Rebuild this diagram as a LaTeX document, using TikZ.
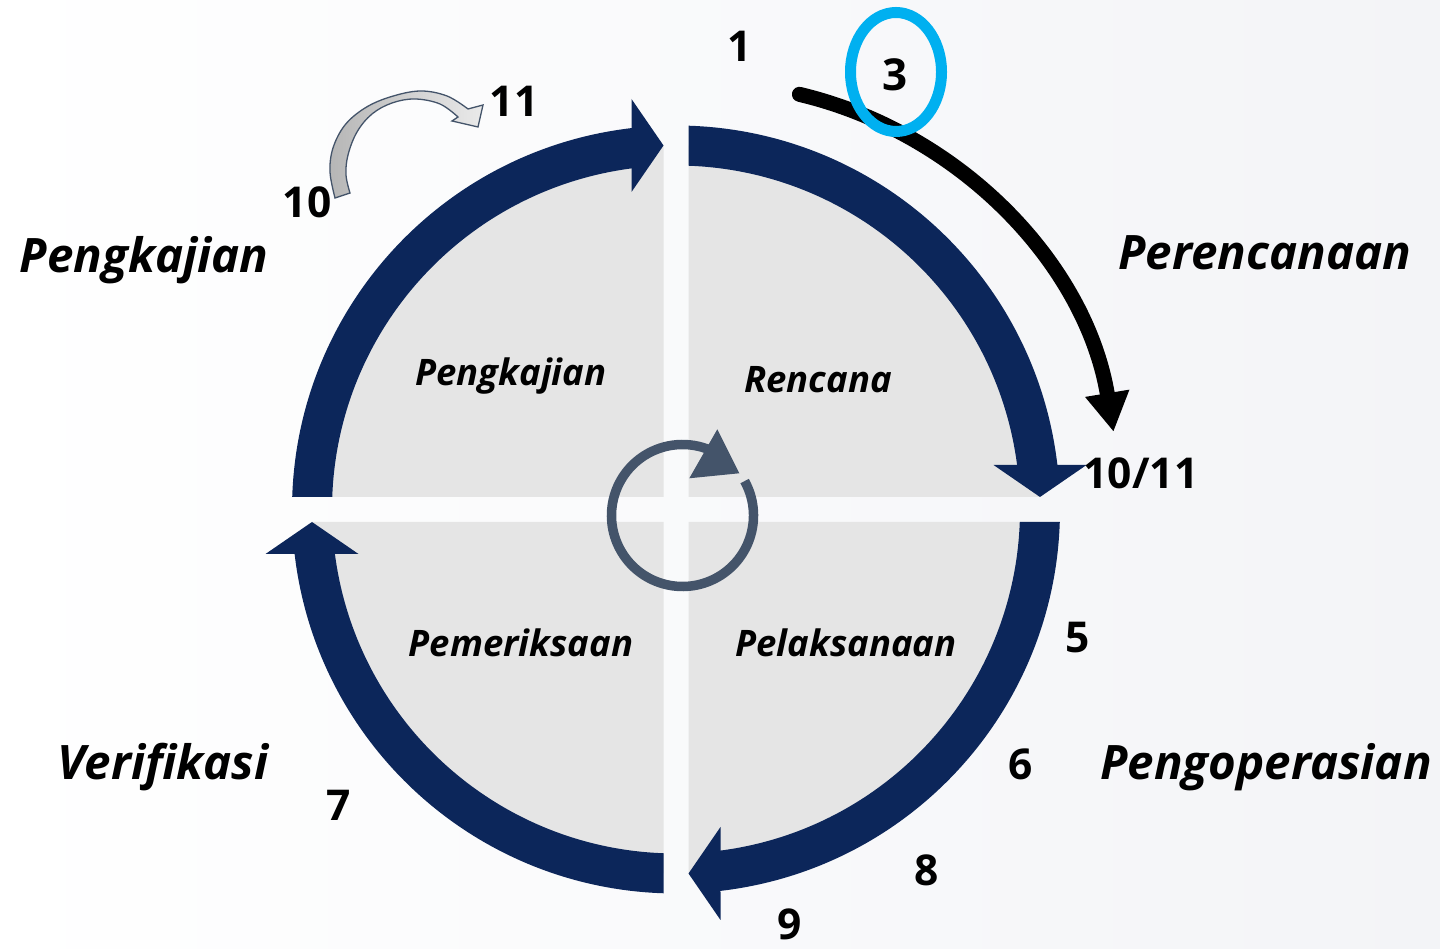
\documentclass[tikz,border=0pt]{standalone}
\usepackage{fontspec}
\setmainfont{Open Sans}
\usetikzlibrary{arrows.meta,calc}
\definecolor{ringblue}{RGB}{12,38,90}
\definecolor{quadgray}{RGB}{229,229,229}
\definecolor{iconslate}{RGB}{68,84,106}
\definecolor{markcyan}{RGB}{0,176,240}
\definecolor{arrowlight}{RGB}{234,234,234}
\definecolor{arrowdark}{RGB}{182,182,182}
\definecolor{paperright}{RGB}{243,244,247}

\begin{document}
\begin{tikzpicture}[x=1pt,y=1pt,
  numlbl/.style={font=\fontsize{42.5}{42.5}\selectfont\bfseries, anchor=base, inner sep=0pt},
  phaselbl/.style={font=\fontsize{47.5}{47.5}\selectfont\bfseries\itshape, anchor=base, inner sep=0pt},
  quadlbl/.style={font=\fontsize{36.5}{36.5}\selectfont\bfseries\itshape, anchor=base, inner sep=0pt},
]
\useasboundingbox (0,0) rectangle (1440,949);
\shade[left color=white, right color=paperright] (0,0) rectangle (1440,949);

% four quadrants: grey sector plus the blue band ending in an arrowhead
\foreach \a in {0,90,180,270}{
  \begin{scope}[shift={(676,439.5)}, rotate=\a]
    \fill[quadgray] (12.5,12.5) -- (12.5,363.79)
      arc[start angle=88.032, end angle=1.968, radius=364] -- cycle;
    \fill[ringblue] (88.134:384)
      arc[start angle=88.134, end angle=6.654, radius=384]
      -- (410.5,44.5) -- (364,12.5) -- (317.5,44.5)
      -- (7.432:344)
      arc[start angle=7.432, end angle=87.918, radius=344] -- cycle;
  \end{scope}
}

% cycle icon in the middle
\draw[iconslate, line width=9.5pt] (682.5,433.5) ++(29:71)
  arc[start angle=29, end angle=-297, radius=71];
\fill[iconslate] (717.3,519.7) -- (739.3,475.7) -- (689.3,470.7) -- cycle;

% black sweep arrow towards 10/11
\coordinate (sweepstart) at ($(703,450)+(76.6:416)$);
\draw[black, line width=15pt, line cap=round, -{Triangle[length=39pt,width=42pt]}]
  (sweepstart) arc[start angle=76.6, end angle=9.3, radius=416];

% cyan ring round the 3
\draw[markcyan, line width=11pt] (896,877) ellipse[x radius=45.5, y radius=59.5];

\begin{scope}[shift={(0,949)}, y=-1pt]
  % small grey curved arrow from 10 to 11
  \draw[iconslate, line width=1.3pt, left color=arrowdark, right color=arrowlight]
    plot[smooth, tension=0.6] coordinates {(335,198) (330,172) (333,148) (345,125) (365,108) (390,97) (420,91) (447,96) (468,109)}
    -- (483,105) -- (478,127) -- (452,121)
    -- plot[smooth, tension=0.6] coordinates {(458,117) (440,104) (415,99) (392,103) (372,114) (357,132) (348,155) (346,175) (350,193)}
    -- cycle;

  % step numbers
  \node[numlbl] (n1) at (740,62) {1};
  \node[numlbl, font=\fontsize{44}{44}\selectfont\bfseries] (n3) at (895,91) {3};
  \node[numlbl] (n11) at (514,117) {11};
  \node[numlbl] (n10) at (307,218) {10};
  \node[numlbl] (n1011) at (1141,489) {10/11};
  \node[numlbl] (n5) at (1078,653) {5};
  \node[numlbl] (n6) at (1021,780) {6};
  \node[numlbl] (n7) at (339,821) {7};
  \node[numlbl] (n8) at (927,886) {8};
  \node[numlbl] (n9) at (790,940) {9};

  % phase names outside the ring
  \node[phaselbl] (pkaj) at (144,273) {Pengkajian};
  \node[phaselbl] (pren) at (1265,270) {Perencanaan};
  \node[phaselbl] (pops) at (1266,780) {Pengoperasian};
  \node[phaselbl] (pver) at (163,780) {Verifikasi};

  % quadrant names
  \node[quadlbl] (qkaj) at (511,386) {Pengkajian};
  \node[quadlbl] (qren) at (818,393) {Rencana};
  \node[quadlbl] (qper) at (521,657) {Pemeriksaan};
  \node[quadlbl] (qpel) at (846,657) {Pelaksanaan};
\end{scope}
\end{tikzpicture}
\end{document}
